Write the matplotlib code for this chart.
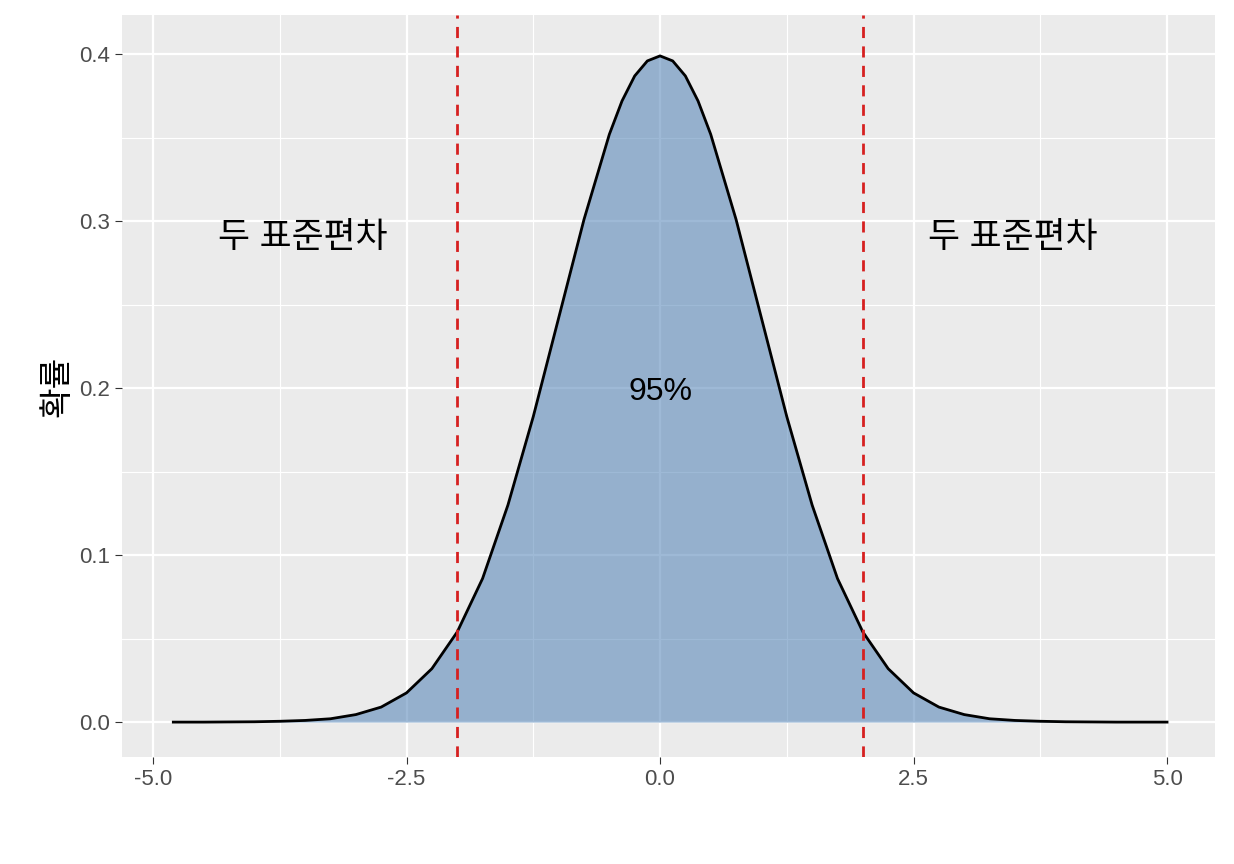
import matplotlib
matplotlib.use("Agg")
import matplotlib.pyplot as plt

plt.rcParams['font.family'] = ['Liberation Sans', 'Noto Sans CJK KR', 'DejaVu Sans']

x = [-4.8, -4.5, -4.25, -4.0, -3.75, -3.5, -3.25, -3.0, -2.75, -2.5, -2.25, -2.0, -1.75, -1.5, -1.25, -1.0, -0.75, -0.5,
     -0.375, -0.25, -0.125, 0.0, 0.125, 0.25, 0.375, 0.5, 0.75, 1.0, 1.25, 1.5, 1.75, 2.0, 2.25, 2.5, 2.75, 3.0,
     3.25, 3.5, 3.75, 4.0, 4.25, 4.5, 5.0]
y = [0.0, 0.0, 0.0001, 0.0002, 0.0005, 0.001, 0.002, 0.0045, 0.009, 0.0175, 0.032, 0.054, 0.086, 0.130, 0.183, 0.242, 0.301, 0.352,
     0.372, 0.387, 0.396, 0.399, 0.396, 0.387, 0.372, 0.352, 0.301, 0.242, 0.183, 0.130, 0.086, 0.054, 0.032, 0.0175, 0.009, 0.0045,
     0.002, 0.001, 0.0005, 0.0002, 0.0001, 0.0, 0.0]
vlines = [-2.0, 2.0]
labels = [(-3.52, 0.29, "두 표준편차"), (3.48, 0.29, "두 표준편차"), (0.0, 0.198, "95%")]

fig = plt.figure(figsize=(12.34, 8.64), dpi=100)
ax = fig.add_axes([122/1234, 1-757/864, (1215-122)/1234, (757-15)/864])
ax.set_facecolor('#ebebeb')
ax.set_xlim(-5.306, 5.473)
ax.set_ylim(-0.0209, 0.4235)
ax.set_xticks([-5, -2.5, 0, 2.5, 5])
ax.set_xticklabels(['-5.0', '-2.5', '0.0', '2.5', '5.0'])
ax.set_yticks([0, 0.1, 0.2, 0.3, 0.4])
ax.set_yticklabels(['0.0', '0.1', '0.2', '0.3', '0.4'])
ax.set_xticks([-3.75, -1.25, 1.25, 3.75], minor=True)
ax.set_yticks([0.05, 0.15, 0.25, 0.35], minor=True)
ax.grid(True, which='major', color='white', lw=1.6)
ax.grid(True, which='minor', color='white', lw=0.8)
ax.set_axisbelow(True)
for s in ax.spines.values():
    s.set_visible(False)
ax.tick_params(which='major', length=5, color='#333333', labelsize=16, labelcolor='#4d4d4d')
ax.tick_params(which='minor', length=0)

ax.fill_between(x, y, color='#4f81b5', alpha=0.55, lw=0)
ax.plot(x, y, color='black', lw=2, solid_joinstyle='round')
for v in vlines:
    ax.axvline(v, color='#d62020', ls='--', lw=2, dashes=(4, 3))
for lx, ly, t in labels[:2]:
    ax.text(lx, ly, t, fontsize=25, ha='center', va='center', color='black')
lx, ly, t = labels[2]
ax.text(lx, ly, t, fontsize=23, ha='center', va='center', color='black')
ax.set_ylabel('확률', fontsize=24)
fig.savefig('out.png', dpi=100)
